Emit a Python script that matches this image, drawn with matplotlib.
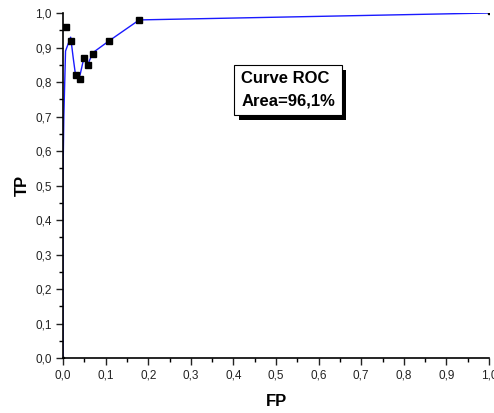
import numpy as np
import matplotlib.pyplot as plt
import matplotlib.patheffects as pe
from matplotlib.ticker import MultipleLocator, FuncFormatter

plt.rcParams['font.family'] = ['Liberation Sans', 'DejaVu Sans']

# ROC points (markers)
fp = [0.007, 0.0195, 0.03, 0.04, 0.049, 0.059, 0.07, 0.109, 0.179]
tp = [0.96, 0.92, 0.82, 0.81, 0.87, 0.85, 0.88, 0.92, 0.98]
# end points
fp_end = [0.0, 1.0]
tp_end = [0.0, 1.0]
# drawn curve
line_fp = [0.0, 0.0, 0.002, 0.006, 0.012, 0.018, 0.024, 0.03, 0.04, 0.049, 0.058, 0.07, 0.109, 0.179, 1.0]
line_tp = [0.0, 0.52, 0.7, 0.89, 0.91, 0.93, 0.87, 0.815, 0.82, 0.87, 0.85, 0.885, 0.92, 0.98, 1.0]

fig = plt.figure(figsize=(4.94, 4.13), dpi=100)
ax = fig.add_axes([0.1275, 0.133, 0.8625, 0.8355])

ax.plot(line_fp, line_tp, color='#1a1aff', lw=1.0, zorder=2)
ax.plot(fp, tp, 's', color='black', ms=4.5, zorder=3)
ax.plot(fp_end, tp_end, 's', color='black', ms=2, zorder=3)

ax.set_xlim(0, 1)
ax.set_ylim(0, 1)
ax.spines['top'].set_visible(False)
ax.spines['right'].set_visible(False)

comma = FuncFormatter(lambda v, p: ('%.1f' % v).replace('.', ','))
ax.xaxis.set_major_locator(MultipleLocator(0.1))
ax.xaxis.set_minor_locator(MultipleLocator(0.05))
ax.yaxis.set_major_locator(MultipleLocator(0.1))
ax.yaxis.set_minor_locator(MultipleLocator(0.05))
ax.xaxis.set_major_formatter(comma)
ax.yaxis.set_major_formatter(comma)
ax.tick_params(which='major', direction='out', length=5, width=1, labelsize=8.5, pad=3, colors='#222222')
ax.tick_params(which='minor', direction='out', length=3, width=1)
for s in ['left', 'bottom']:
    ax.spines[s].set_linewidth(1.2)

ax.set_xlabel('FP', fontsize=12, fontweight='bold', labelpad=9)
ax.set_ylabel('TP', fontsize=12, fontweight='bold', labelpad=4)

t = ax.text(0.418, 0.777, 'Curve ROC\nArea=96,1%', fontsize=12, fontweight='bold',
            ha='left', va='center', multialignment='left', linespacing=1.6,
            bbox=dict(boxstyle='square,pad=0.4', fc='white', ec='black', lw=0.8))
t.get_bbox_patch().set_path_effects([
    pe.SimplePatchShadow(offset=(3.5, -3.5), shadow_rgbFace='black', alpha=1),
    pe.Normal()])

fig.savefig('out.png', dpi=100)
